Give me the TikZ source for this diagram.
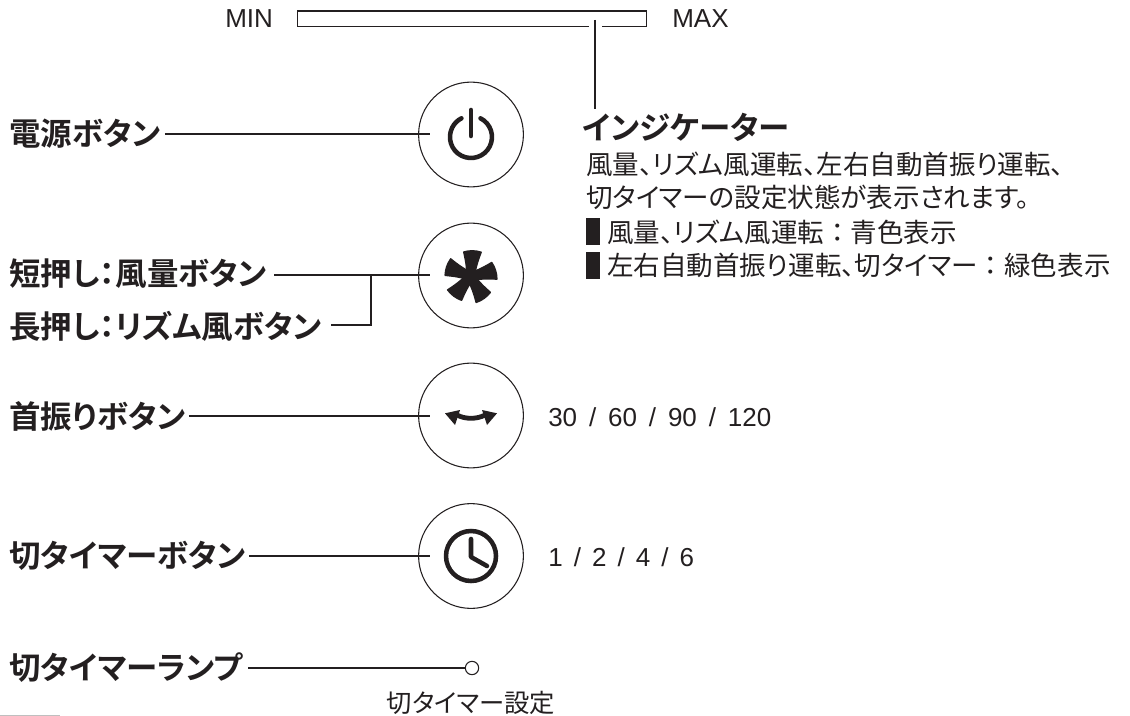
\documentclass[tikz,border=0pt]{standalone}
\usepackage{fontspec}
\setmainfont{Liberation Sans}
\newfontfamily\jpn[RawFeature=+palt]{Noto Sans CJK JP}
\newfontfamily\jpb[RawFeature=+palt]{Noto Sans CJK JP Bold}
\newcommand{\colonsp}{\hspace{5pt}：\hspace{5pt}}
\newcommand{\slashsp}{\hspace{8.3pt}/\hspace{8.3pt}}
\newcommand{\slashwide}{\hspace{8.9pt}/\hspace{8.9pt}}
\definecolor{ink}{HTML}{231F20}
\tikzset{
 btn/.style={draw=ink,circle,minimum size=78.6pt,inner sep=0pt,line width=0.8pt},
 lab/.style={anchor=west,inner sep=0pt,font=\jpb\fontsize{23.6}{25}\selectfont,text=ink},
 txt/.style={anchor=west,inner sep=0pt,font=\jpn\fontsize{19.9}{21}\selectfont,text=ink},
 captxt/.style={anchor=center,inner sep=0pt,font=\jpn\fontsize{19}{21}\selectfont,text=ink},
 num/.style={anchor=west,inner sep=0pt,font=\fontsize{19.5}{21}\selectfont,text=ink},
 lead/.style={draw=ink,line width=1pt},
 icon/.style={draw=ink,line width=3.4pt,line cap=round,line join=round},
 sqbox/.style={fill=ink,minimum width=10.5pt,minimum height=20.2pt,inner sep=0pt,anchor=west},
}
\begin{document}
\begin{tikzpicture}[x=0.75pt,y=-0.75pt]
\useasboundingbox (0,0) rectangle (1130,716);
\fill[black!25] (0,714.6) rectangle (60,716);
% indicator
\node[num] (minl) at (225,19) {MIN};
\node[num] (maxl) at (672,19) {MAX};
\node[draw=ink,line width=0.8pt,fill=white,minimum width=261.8pt,minimum height=11.6pt,inner sep=0pt,anchor=north west] (bar) at (297,10.5) {};
\coordinate (barin) at (595,20);
\coordinate (barend) at (595,109);
\draw[white,line width=1.4pt] (589,26) -- (602,26);
\draw[lead] (barin) -- (barend);
\node[lab] (ind) at (582,127) {インジケーター};
\node[txt] (t1) at (586,164) {風量、リズム風運転、左右自動首振り運転、};
\node[txt] (t2) at (586,197) {切タイマーの設定状態が表示されます。};
\node[sqbox] (sq1) at (586,231.5) {};
\node[txt] (t3) at (607,232) {風量、リズム風運転\colonsp 青色表示};
\node[sqbox] (sq2) at (586,265.5) {};
\node[txt] (t4) at (607,265) {左右自動首振り運転、切タイマー\colonsp 緑色表示};
% buttons
\node[btn] (b1) at (471,134.5) {};
\node[btn] (b2) at (471,275.5) {};
\node[btn] (b3) at (471,415.5) {};
\node[btn] (b4) at (471,556) {};
% labels
\node[lab] (l1) at (9,134) {電源ボタン};
\node[lab] (l2) at (9,274) {短押し：風量ボタン};
\node[lab] (l2b) at (9,326) {長押し：リズム風ボタン};
\node[lab] (l3) at (9,416) {首振りボタン};
\node[lab] (l4) at (9,556) {切タイマーボタン};
\node[lab] (l5) at (9,668) {切タイマーランプ};
\node[num] (n3) at (548,417) {30\slashwide 60\slashwide 90\slashwide 120};
\node[num] (n4) at (548,557) {1\slashsp 2\slashsp 4\slashsp 6};
\node[captxt] (lampt) at (471,703) {切タイマー設定};
% leader ends
\coordinate (e1) at (430,134);
\coordinate (e2) at (430,275);
\coordinate (e3) at (430,416);
\coordinate (e4) at (430,556);
\coordinate (j2) at (371,275);
\coordinate (j2b) at (371,325);
\node[draw=ink,circle,line width=0.8pt,minimum size=10pt,inner sep=0pt] (lamp) at (472,668) {};
\draw[lead] (l1.east) ++(4,0) -- (e1);
\draw[lead] (l2.east |- e2) ++(7,0) -- (e2);
\draw[lead] (l2b.east |- j2b) ++(9,0) -- (j2b) -- (j2);
\draw[lead] (l3.east) ++(3,0) -- (e3);
\draw[lead] (l4.east) ++(3,0) -- (e4);
\draw[lead] (l5.east) ++(5,0) -- (lamp.west);
% power icon
\draw[icon] (471,137) ++(9.5,-18.7) arc[start angle=-63,end angle=243,radius=21];
\draw[icon] (471,110) -- (471,136);
% fan icon
\begin{scope}[shift={(470.5,276.5)}]
\foreach \a in {-4,-76,-148,-220,-292}{
 \filldraw[ink,rotate=\a,line width=1pt,line join=round] (-4,0) .. controls (-4,-9) and (-6.5,-17) .. (-8.5,-24)
   .. controls (-3,-26) and (3,-26.5) .. (9,-25)
   .. controls (6.5,-17) and (4.5,-9) .. (4,0) -- cycle;
}
\fill[ink] (0,0) circle[radius=6];
\end{scope}
% swing icon
\begin{scope}[shift={(471,416)}]
\draw[ink,line width=3.6pt] (-14,-1) .. controls (-6,3.4) and (6,3.4) .. (14,-1);
\fill[ink] (-26,-2.7) -- (-11,-6) -- (-16,9) -- cycle;
\fill[ink] (26,-2.7) -- (11,-6) -- (16,9) -- cycle;
\end{scope}
% clock icon
\draw[icon] (471,556) circle[radius=25];
\draw[icon] (471,539) -- (471,557) -- (487,566);
\end{tikzpicture}
\end{document}
